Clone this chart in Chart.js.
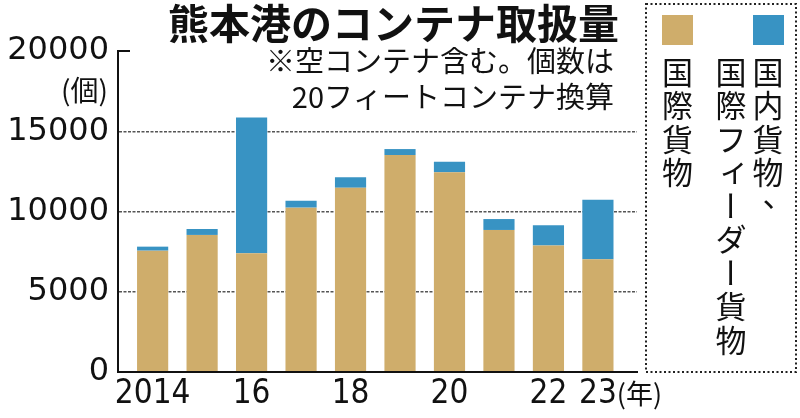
<!DOCTYPE html>
<html>
<head>
<meta charset="utf-8">
<script src="https://cdn.jsdelivr.net/npm/chart.js@4"></script>
<style>
  html, body { margin: 0; padding: 0; background: #fff; }
  #wrap { width: 800px; height: 418px; }
</style>
</head>
<body>
<div id="wrap"><canvas id="containerChart" width="800" height="418"></canvas></div>
<script>
// 熊本港のコンテナ取扱量 (個, 20フィート換算)
const years = ['2014', '2015', '2016', '2017', '2018', '2019', '2020', '2021', '2022', '2023'];
const tickLabels = ['2014', '', '16', '', '18', '', '20', '', '22', '23'];
const international = [7560, 8540, 7400, 10240, 11480, 13520, 12440, 8850, 7880, 7030];
const domesticFeeder = [250, 370, 8460, 430, 650, 370, 660, 680, 1260, 3700];
const seriesNames = ['国際貨物', '国内貨物、国際フィーダー貨物'];
const legendColumns = [['国際貨物'], ['国内貨物、', '国際フィーダー貨物']];
const titleText = '熊本港のコンテナ取扱量';
const noteLines = ['※空コンテナ含む。個数は', '20フィートコンテナ換算'];
const yUnit = '(個)';
const xUnit = '(年)';

const TAN = '#cfad6b';
const BLUE = '#3893c3';
const INK = '#111';
const JP = '"Noto Sans CJK JP", "Noto Sans", sans-serif';
const XFONT = '"Liberation Sans Narrow", "DejaVu Sans Condensed", Roboto, sans-serif';

function drawVertical(ctx, text, x, y0, step) {
    [...text].forEach((ch, i) => {
        const cy = y0 + step * i + step / 2;
        ctx.save();
        ctx.translate(x, cy);
        if (ch === '、' || ch === '。') ctx.translate(step * 0.3, -step * 0.3);
        if ('ァィゥェォッャュョ'.includes(ch)) ctx.translate(step * 0.1, -step * 0.1);
        if (ch === 'ー') ctx.rotate(Math.PI / 2);
        ctx.fillText(ch, 0, 0);
        ctx.restore();
    });
}

const decor = {
    id: 'decor',
    afterDraw(chart) {
        const ctx = chart.ctx;
        const y = chart.scales.y;
        const x = chart.scales.x;
        const area = chart.chartArea;
        ctx.save();
        ctx.fillStyle = INK;

        // title + note
        ctx.textAlign = 'right';
        ctx.textBaseline = 'middle';
        ctx.font = 'bold 41px ' + JP;
        ctx.fillText(titleText, 619, 23);
        ctx.font = '29px ' + JP;
        ctx.fillText(noteLines[0], 614, 61);
        ctx.fillText(noteLines[1], 614, 97);

        // unit under top tick
        ctx.font = '28px ' + JP;
        ctx.fillText(yUnit, 108, 90);

        // short tick at top of y axis
        const top = y.getPixelForValue(20000);
        ctx.strokeStyle = INK;
        ctx.lineWidth = 2;
        ctx.beginPath();
        ctx.moveTo(area.left, top);
        ctx.lineTo(area.left + 12, top);
        ctx.stroke();

        // (年) after the last label
        ctx.font = '33px ' + XFONT;
        const last = years.length - 1;
        const lx = x.getPixelForValue(last) + ctx.measureText(tickLabels[last]).width / 2;
        ctx.textAlign = 'left';
        ctx.font = '27px ' + JP;
        ctx.fillText(xUnit, lx, 394);

        // legend box
        ctx.setLineDash([2, 2.5]);
        ctx.lineWidth = 2;
        ctx.strokeStyle = '#222';
        ctx.strokeRect(646, 4, 150, 368);
        ctx.setLineDash([]);

        const ds = chart.data.datasets;
        ctx.fillStyle = ds[0].backgroundColor;
        ctx.fillRect(662, 15, 31, 30);
        ctx.fillStyle = ds[1].backgroundColor;
        ctx.fillRect(753, 15, 31, 30);

        ctx.fillStyle = INK;
        ctx.font = '31px ' + JP;
        ctx.textAlign = 'center';
        ctx.textBaseline = 'middle';
        drawVertical(ctx, legendColumns[0][0], 677.5, 55, 33.5);
        drawVertical(ctx, legendColumns[1][0], 768, 55, 33.5);
        drawVertical(ctx, legendColumns[1][1], 731, 55, 33.5);
        ctx.restore();
    }
};

new Chart(document.getElementById('containerChart'), {
    type: 'bar',
    data: {
        datasets: [
            {
                label: seriesNames[0],
                data: international.map((v, i) => ({ x: i, y: v })),
                backgroundColor: TAN
            },
            {
                label: seriesNames[1],
                data: domesticFeeder.map((v, i) => ({ x: i, y: v })),
                backgroundColor: BLUE
            }
        ]
    },
    options: {
        responsive: false,
        animation: false,
        devicePixelRatio: 1,
        layout: { padding: { top: 51, right: 163, left: 0, bottom: 0 } },
        datasets: { bar: { categoryPercentage: 1, barPercentage: 0.63 } },
        plugins: {
            legend: { display: false },
            tooltip: { enabled: false },
            title: { display: false }
        },
        scales: {
            x: {
                type: 'linear',
                stacked: true,
                offset: false,
                min: -0.7,
                max: 9.79,
                afterFit: s => { s.height = 46; },
                grid: { display: false, drawTicks: false },
                border: { display: true, color: INK, width: 2, z: 1 },
                ticks: {
                    stepSize: 1,
                    includeBounds: false,
                    autoSkip: false,
                    maxRotation: 0,
                    padding: 3,
                    color: INK,
                    font: { family: XFONT, size: 33 },
                    callback: v => Number.isInteger(v) ? (tickLabels[v] || '') : ''
                }
            },
            y: {
                stacked: true,
                min: 0,
                max: 20000,
                afterFit: s => { s.width = 118; },
                grid: {
                    drawTicks: false,
                    lineWidth: 1.5,
                    color: c => (c.tick && c.tick.value > 0 && c.tick.value < 20000) ? '#555' : 'rgba(0,0,0,0)'
                },
                border: { display: true, color: INK, width: 2, dash: [3, 1.5] },
                ticks: {
                    stepSize: 5000,
                    padding: 9,
                    color: INK,
                    font: { family: '"DejaVu Sans", sans-serif', size: 32 },
                    callback: v => String(v)
                }
            }
        }
    },
    plugins: [decor]
});
</script>
</body>
</html>
